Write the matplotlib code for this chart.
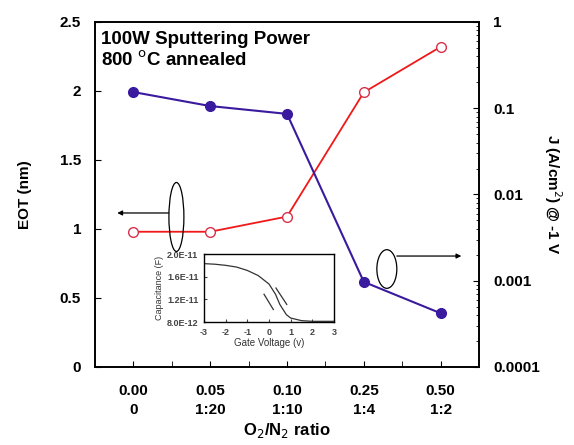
import numpy as np
import matplotlib
matplotlib.use("Agg")
import matplotlib.pyplot as plt
from matplotlib.patches import Ellipse

plt.rcParams["font.family"] = ["Liberation Sans", "DejaVu Sans"]
plt.rcParams["axes.unicode_minus"] = False

# main data
ratio_dec = ["0.00", "0.05", "0.10", "0.25", "0.50"]
ratio_lbl = ["0", "1:20", "1:10", "1:4", "1:2"]
eot = [0.98, 0.98, 1.09, 1.99, 2.32]                 # nm, left axis (red, open)
jleak = [0.154, 0.106, 0.086, 0.00097, 0.00042]      # A/cm2 @ -1 V, right axis (purple, filled)

# inset C-V curve
cv_v = [-3, -2.5, -2, -1.5, -1, -0.5, 0, 0.3, 0.5, 0.8, 1.0, 1.5, 2, 3]
cv_c = [1.83e-11, 1.82e-11, 1.80e-11, 1.77e-11, 1.71e-11, 1.62e-11, 1.47e-11,
        1.29e-11, 1.11e-11, 9.3e-12, 8.7e-12, 8.24e-12, 8.12e-12, 8.12e-12]
hyst_a_v = [-0.23, 0.20]
hyst_a_c = [1.29e-11, 1.02e-11]
hyst_b_v = [0.32, 0.82]
hyst_b_c = [1.40e-11, 1.11e-11]

RED = "#f01818"
RED_MK = "#d8304a"
PURPLE = "#3a1a9e"

fig = plt.figure(figsize=(5.74, 4.45), dpi=100)
ax = fig.add_axes([0.1655, 0.1753, 0.669, 0.7753])
x = np.arange(len(eot))

ax.plot(x, eot, color=RED, lw=1.3, marker="o", ms=7, mfc="white",
        mec=RED_MK, mew=1.0, zorder=3)
ax.set_xlim(-0.5, 4.5)
ax.set_ylim(0, 2.5)
ax.set_yticks([0, 0.5, 1, 1.5, 2, 2.5])
ax.set_yticklabels(["0", "0.5", "1", "1.5", "2", "2.5"])
ax.set_xticks(np.arange(0, 4.01, 0.5), minor=True)
ax.set_xticks(x)
ax.set_xticklabels([f"{d}\n{r}" for d, r in zip(ratio_dec, ratio_lbl)],
                   linespacing=1.45)
ax.tick_params(axis="x", which="both", direction="in", length=4, pad=12,
               labelsize=11)
ax.tick_params(axis="y", direction="in", length=4, pad=10, labelsize=11)
for lab in ax.get_xticklabels() + ax.get_yticklabels():
    lab.set_fontweight("bold")
ax.set_ylabel("EOT (nm)", fontsize=11, fontweight="bold", labelpad=20)
ax.set_xlabel("O$_2$/N$_2$ ratio", fontsize=12, fontweight="bold", labelpad=3)

ax2 = ax.twinx()
ax2.plot(x, jleak, color=PURPLE, lw=1.5, marker="o", ms=7, mfc=PURPLE,
         mec=PURPLE, zorder=3)
ax2.set_yscale("log")
ax2.set_ylim(1e-4, 1)
ax2.set_yticks([1e-4, 1e-3, 1e-2, 1e-1, 1])
ax2.set_yticklabels(["0.0001", "0.001", "0.01", "0.1", "1"])
ax2.tick_params(axis="y", which="major", direction="in", length=4, pad=10,
                labelsize=11)
ax2.tick_params(axis="y", which="minor", direction="in", length=2.5)
for lab in ax2.get_yticklabels():
    lab.set_fontweight("bold")
ax2.set_ylabel("J (A/cm$^2$) @ -1 V", fontsize=11, fontweight="bold",
               rotation=-90, labelpad=17)

for a in (ax, ax2):
    for s in a.spines.values():
        s.set_linewidth(1.2)

ax.text(0.015, 0.975, "100W Sputtering Power\n800 $^{\\mathrm{o}}$C annealed",
        transform=ax.transAxes, ha="left", va="top", fontsize=13.5,
        fontweight="bold", linespacing=1.2)

# ellipses with arrows pointing to the axes
ax.add_patch(Ellipse((0.56, 1.087), 0.195, 0.50, fill=False, ec="black",
                     lw=0.9, zorder=4))
ax.annotate("", xy=(-0.21, 1.116), xytext=(0.46, 1.116),
            arrowprops=dict(arrowstyle="-|>", color="black", lw=0.9,
                            mutation_scale=7, shrinkA=0, shrinkB=0))
ax.add_patch(Ellipse((3.30, 0.71), 0.26, 0.28, fill=False, ec="black",
                     lw=0.9, zorder=4))
ax.annotate("", xy=(4.27, 0.804), xytext=(3.43, 0.804),
            arrowprops=dict(arrowstyle="-|>", color="black", lw=0.9,
                            mutation_scale=7, shrinkA=0, shrinkB=0))

# inset C-V
ins = fig.add_axes([0.3554, 0.2764, 0.2265, 0.1528])
ins.plot(cv_v, cv_c, color="#333333", lw=0.9)
ins.plot(hyst_a_v, hyst_a_c, color="#333333", lw=0.9)
ins.plot(hyst_b_v, hyst_b_c, color="#333333", lw=0.9)
ins.set_xlim(-3, 3)
ins.set_ylim(8e-12, 2e-11)
ins.set_xticks(range(-3, 4))
ins.set_yticks([8e-12, 1.2e-11, 1.6e-11, 2e-11])
ins.set_yticklabels(["8.0E-12", "1.2E-11", "1.6E-11", "2.0E-11"])
ins.tick_params(direction="in", length=2, labelsize=6.5, pad=4,
                colors="#444444")
for lab in ins.get_xticklabels() + ins.get_yticklabels():
    lab.set_fontweight("bold")
ins.set_xlabel("Gate Voltage (v)", fontsize=7, labelpad=1, color="#333333")
ins.set_ylabel("Capacitance (F)", fontsize=6.5, labelpad=2, color="#333333")
for s in ins.spines.values():
    s.set_linewidth(1.0)

fig.savefig("out.png", dpi=100)
